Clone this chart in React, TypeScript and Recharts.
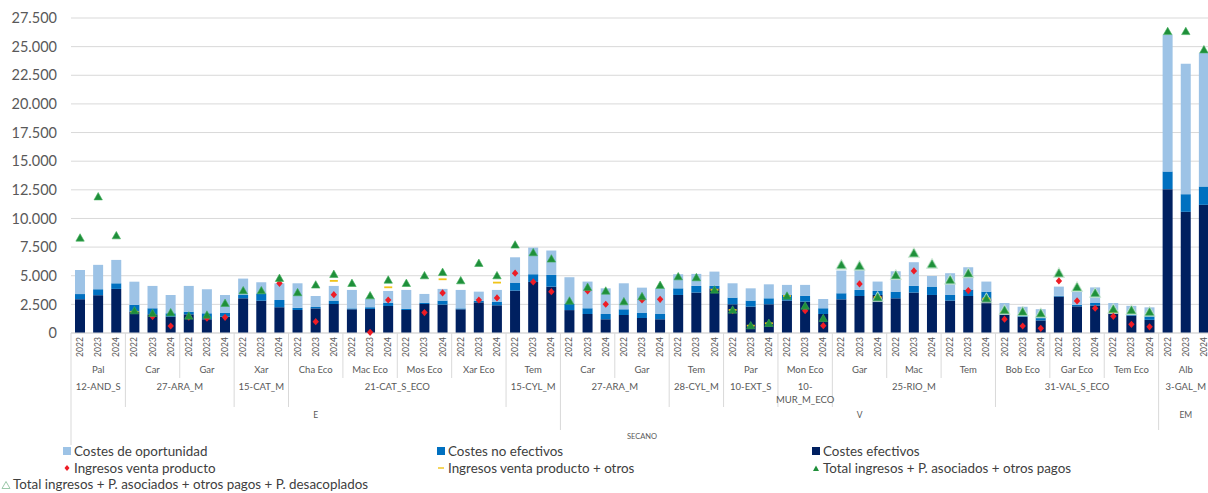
import React from 'react';
import { ComposedChart, Bar, Line, XAxis, YAxis, CartesianGrid } from 'recharts';

// ---------- categories ----------
const years = ['2022', '2023', '2024'];
const productLabels = [
  'Pal', 'Car', 'Gar', 'Xar', 'Cha Eco', 'Mac Eco', 'Mos Eco', 'Xar Eco', 'Tem',
  'Car', 'Gar', 'Tem', 'Par', 'Mon Eco', 'Gar', 'Mac', 'Tem', 'Bob Eco', 'Gar Eco', 'Tem Eco',
  'Alb',
];
const regionLabels = [
  '12-AND_S', '27-ARA_M', '27-ARA_M', '15-CAT_M', '21-CAT_S_ECO', '21-CAT_S_ECO', '21-CAT_S_ECO', '21-CAT_S_ECO', '15-CYL_M',
  '27-ARA_M', '27-ARA_M', '28-CYL_M', '10-EXT_S', '10-MUR_M_ECO', '25-RIO_M', '25-RIO_M', '25-RIO_M', '31-VAL_S_ECO', '31-VAL_S_ECO', '31-VAL_S_ECO',
  '3-GAL_M',
];
const typeLabels = [
  'E', 'E', 'E', 'E', 'E', 'E', 'E', 'E', 'E',
  'V', 'V', 'V', 'V', 'V', 'V', 'V', 'V', 'V', 'V', 'V',
  'EM',
];
const systemLabel = 'SECANO';
const yTicks = [0, 2500, 5000, 7500, 10000, 12500, 15000, 17500, 20000, 22500, 25000, 27500];

// ---------- series (one value per year bar, 63 bars) ----------
const costesEfectivos = [
  2950, 3300, 3850, 1860, 1630, 1430, 1630, 1200, 1430, 3030, 2820, 2250,
  2010, 2150, 2530, 2070, 2100, 2360, 2010, 2530, 2480, 2070, 2680, 2420,
  3700, 4460, 4050, 2000, 1660, 1200, 1570, 1310, 1200, 3320, 3530, 3900,
  2510, 2300, 2510, 2830, 2740, 1660, 2940, 3230, 3320, 3030, 3530, 3320,
  2830, 3230, 2940, 1620, 1400, 1100, 3180, 2330, 2400, 1790, 1515, 1150,
  12560, 10580, 11190,
];
const costesNoEfectivos = [
  450, 520, 490, 590, 530, 290, 230, 520, 350, 290, 630, 630,
  190, 120, 300, 80, 150, 290, 90, 120, 350, 80, 120, 320,
  700, 670, 1020, 540, 500, 460, 500, 470, 460, 580, 580, 210,
  580, 530, 520, 490, 520, 500, 530, 530, 350, 580, 580, 730,
  490, 560, 670, 140, 80, 260, 70, 120, 220, 70, 105, 380,
  1540, 1540, 1600,
];
const costesOportunidad = [
  2100, 2130, 2040, 2030, 1950, 1600, 2250, 2100, 1540, 1430, 980, 1460,
  2140, 960, 1280, 1610, 750, 1020, 1660, 760, 1020, 1610, 810, 1020,
  2210, 2330, 2130, 2330, 2330, 2240, 2270, 2180, 2240, 1230, 1050, 1250,
  1250, 1070, 1220, 880, 940, 810, 1980, 1810, 820, 1780, 2070, 930,
  1900, 1950, 880, 860, 820, 720, 800, 1200, 1360, 760, 750, 710,
  11950, 11390, 11660,
];
const ingresosVenta = [
  null, null, null, null, 1430, 610, 1380, 1290, 1370, null, null, 4340,
  null, 990, 3350, null, 60, 2880, null, 1780, 3500, null, 2880, 3060,
  5220, 4460, 3610, null, 3670, 2510, null, 2880, 2940, null, null, null,
  1950, null, null, null, 1950, 640, null, 4280, null, null, 5420, null,
  null, 3700, null, 1210, 610, 410, 4550, 2800, 2160, 1460, 760, 540,
  null, null, null,
];
const ingresosVentaOtros = [
  null, null, null, 1850, null, null, null, null, null, null, null, null,
  null, null, 4550, null, null, 3990, null, null, 4690, null, null, 4400,
  null, null, null, null, null, null, null, null, null, null, null, 3760,
  2010, 640, 850, 3230, null, null, null, null, 3120, null, null, null,
  null, null, 3000, 1800, null, null, null, null, null, 1850, null, null,
  null, null, null,
];
const totalIngresos = [
  8300, 11900, 8500, 1950, 1720, 1780, 1490, 1570, 2600, 3700, 3700, 4780,
  3530, 4200, 5130, 4340, 3260, 4630, 4340, 5010, 5300, 4570, 6090, 5010,
  7690, 7020, 6470, 2800, 3990, 3670, 2740, 3180, 4170, 4920, 4840, 3760,
  2010, 640, 850, 3230, 2360, 1280, 5940, 5850, 3120, 5040, 6960, 6010,
  4630, 5200, 3010, 2000, 1850, 1700, 5220, 3990, 3480, 2080, 1980, 1830,
  26330, 26330, 24730,
];
const totalIngresosDesacoplados = [
  null, null, null, null, null, null, null, null, null, null, null, null,
  null, null, null, null, null, null, null, null, null, null, null, null,
  null, null, null, null, null, null, null, null, null, null, null, null,
  null, null, null, null, null, null, 5940, 5850, 3120, 5040, 6960, 6010,
  4630, 5200, 3010, 2000, 1850, 1700, 5220, 3990, 3480, 2080, 1980, 1830,
  null, null, null,
];

// ---------- table for the library ----------
const data = productLabels.flatMap((p, g) =>
  years.map((yr, k) => {
    const i = g * 3 + k;
    return {
      id: String(i),
      year: yr,
      product: p,
      region: regionLabels[g],
      type: typeLabels[g],
      system: systemLabel,
      ef: costesEfectivos[i],
      nef: costesNoEfectivos[i],
      op: costesOportunidad[i],
      iv: ingresosVenta[i],
      ivo: ingresosVentaOtros[i],
      ti: totalIngresos[i],
      tid: totalIngresosDesacoplados[i],
    };
  })
);

// ---------- layout ----------
const FONT = 'Lato, "Open Sans", sans-serif';
const TEXT = '#595959';
const LINE = '#d9d9d9';
const N = data.length;
const CHART_W = 1213;
const CHART_H = 493;
const Y_AXIS_W = 71;
const BAND = (CHART_W - Y_AXIS_W) / N;

type Run = { start: number; end: number; label: string };
function runsOf(keys: string[], labels: string[]): Run[] {
  const out: Run[] = [];
  keys.forEach((k, i) => {
    const last = out[out.length - 1];
    if (last && keys[last.start] === k) last.end = i;
    else out.push({ start: i, end: i, label: labels[i] });
  });
  return out;
}
const prodKeys = data.map((d, i) => `${Math.floor(i / 3)}`);
const regKeys = data.map((d) => `${d.type}|${d.region}`);
const typeKeys = data.map((d) => d.type);
const sysKeys = data.map((d) => d.system);
const prodRuns = runsOf(prodKeys, data.map((d) => d.product));
const regRuns = runsOf(regKeys, data.map((d) => d.region));
const typeRuns = runsOf(typeKeys, data.map((d) => d.type));
const sysRuns = runsOf(sysKeys, data.map((d) => d.system));

function splitLabel(label: string, size: number): string[] {
  if (size <= 3 && label.length > 10 && label.indexOf('-') > 0) {
    const p = label.indexOf('-') + 1;
    return [label.slice(0, p), label.slice(p)];
  }
  return [label];
}

function makeGroupTick(runs: Run[], rowCenter: number, fontSize: number) {
  return (props: any) => {
    const { x, y, index } = props;
    const run = runs.find((r) => Math.floor((r.start + r.end) / 2) === index);
    if (!run) return <g />;
    const dx = ((run.start + run.end) / 2 - index) * BAND;
    const lines = splitLabel(run.label, run.end - run.start + 1);
    return (
      <text x={x + dx} y={y + rowCenter} textAnchor="middle" fill={TEXT} fontSize={fontSize} fontFamily={FONT}>
        {lines.map((l, k) => (
          <tspan key={k} x={x + dx} dy={k === 0 ? fontSize * 0.35 : fontSize * 1.35}>{l}</tspan>
        ))}
      </text>
    );
  };
}

const YearTick = (props: any) => {
  const { x, y, index } = props;
  const d = data[index];
  const lines: any[] = [];
  let depth = 0;
  if (index === 0) depth = 112;
  else if (typeKeys[index] !== typeKeys[index - 1]) depth = 97;
  else if (regKeys[index] !== regKeys[index - 1]) depth = 74;
  else if (prodKeys[index] !== prodKeys[index - 1]) depth = 45;
  if (depth) lines.push(<line key="l" x1={x - BAND / 2} x2={x - BAND / 2} y1={y} y2={y + depth} stroke={LINE} />);
  if (index === N - 1) lines.push(<line key="r" x1={x + BAND / 2} x2={x + BAND / 2} y1={y} y2={y + 112} stroke={LINE} />);
  const cy = y + 14;
  return (
    <g>
      {lines}
      <text x={x} y={cy} transform={`rotate(-90, ${x}, ${cy})`} textAnchor="middle" dominantBaseline="central" fill={TEXT} fontSize={8.5} fontFamily={FONT}>
        {d ? d.year : ''}
      </text>
    </g>
  );
};

// ---------- markers ----------
const Diamond = (p: any) => {
  const { cx, cy, value, index } = p;
  if (value == null || cy == null || isNaN(cy)) return <g key={`d${index}`} />;
  return <polygon key={`d${index}`} points={`${cx},${cy - 3.6} ${cx + 3.2},${cy} ${cx},${cy + 3.6} ${cx - 3.2},${cy}`} fill="#ee1c25" />;
};
const Dash = (p: any) => {
  const { cx, cy, value, index } = p;
  if (value == null || cy == null || isNaN(cy)) return <g key={`y${index}`} />;
  return <rect key={`y${index}`} x={cx - 4} y={cy - 0.9} width={8} height={1.8} fill="#f0c419" />;
};
const Tri = (p: any) => {
  const { cx, cy, value, index } = p;
  if (value == null || cy == null || isNaN(cy)) return <g key={`t${index}`} />;
  return <polygon key={`t${index}`} points={`${cx},${cy - 4.2} ${cx + 4.2},${cy + 3.2} ${cx - 4.2},${cy + 3.2}`} fill="#1f8f3a" stroke="#3fae5a" strokeWidth={0.6} />;
};
const HollowTri = (p: any) => {
  const { cx, cy, value, index } = p;
  if (value == null || cy == null || isNaN(cy)) return <g key={`h${index}`} />;
  return <polygon key={`h${index}`} points={`${cx},${cy - 5.8} ${cx + 5.6},${cy + 4.3} ${cx - 5.6},${cy + 4.3}`} fill="rgba(200,230,212,0.6)" stroke="#c4e2cd" strokeWidth={0.8} />;
};

const fmt = (v: number) => String(v).replace(/\B(?=(\d{3})+(?!\d))/g, '.');

// ---------- legend ----------
const legendItems = [
  { label: 'Costes de oportunidad', kind: 'sq', color: '#9dc3e6', x: 62, y: 451 },
  { label: 'Costes no efectivos', kind: 'sq', color: '#0070c0', x: 436, y: 451 },
  { label: 'Costes efectivos', kind: 'sq', color: '#002060', x: 811, y: 451 },
  { label: 'Ingresos venta producto', kind: 'dia', color: '#ee1c25', x: 62, y: 468 },
  { label: 'Ingresos venta producto + otros', kind: 'dash', color: '#f0c419', x: 436, y: 468 },
  { label: 'Total ingresos + P. asociados + otros pagos', kind: 'tri', color: '#1f8f3a', x: 811, y: 468 },
  { label: 'Total ingresos + P. asociados + otros pagos + P. desacoplados', kind: 'htri', color: '#9cc8aa', x: 1, y: 484.5 },
];

function LegendMarker({ kind, color }: { kind: string; color: string }) {
  return (
    <svg width={10} height={10} style={{ position: 'absolute', left: 0, top: -5 }}>
      {kind === 'sq' && <rect x={1} y={1} width={8} height={8} fill={color} />}
      {kind === 'dia' && <polygon points="5,2 7.5,5 5,8 2.5,5" fill={color} />}
      {kind === 'dash' && <rect x={2} y={4.3} width={6} height={1.4} fill={color} />}
      {kind === 'tri' && <polygon points="5,2.5 8,8 2,8" fill={color} />}
      {kind === 'htri' && <polygon points="5,1.5 9,8.5 1,8.5" fill="none" stroke={color} strokeWidth={1} />}
    </svg>
  );
}

export default function App() {
  return (
    <div style={{ position: 'absolute', left: 0, top: 0, width: 1208, height: 493, overflow: 'hidden', background: '#fff' }}>
      <ComposedChart
        width={CHART_W}
        height={CHART_H}
        data={data}
        margin={{ top: 18, right: 0, left: 0, bottom: 48 }}
        barCategoryGap={0}
      >
        <CartesianGrid vertical={false} stroke={LINE} />
        <XAxis dataKey="id" interval={0} tickSize={0} tickMargin={0} height={27} axisLine={{ stroke: LINE }} tickLine={false} tick={YearTick} />
        <XAxis xAxisId="x1prod" dataKey="id" interval={0} tickSize={0} tickMargin={0} height={18} axisLine={false} tickLine={false} tick={makeGroupTick(prodRuns, 10, 9.5)} />
        <XAxis xAxisId="x2reg" dataKey="id" interval={0} tickSize={0} tickMargin={0} height={29} axisLine={false} tickLine={false} tick={makeGroupTick(regRuns, 9, 9.5)} />
        <XAxis xAxisId="x3type" dataKey="id" interval={0} tickSize={0} tickMargin={0} height={20} axisLine={false} tickLine={false} tick={makeGroupTick(typeRuns, 8, 8.5)} />
        <XAxis xAxisId="x4sys" dataKey="id" interval={0} tickSize={0} tickMargin={0} height={18} axisLine={false} tickLine={false} tick={makeGroupTick(sysRuns, 9, 7.5)} />
        <YAxis
          width={Y_AXIS_W}
          domain={[0, 27500]}
          ticks={yTicks}
          interval={0}
          tickFormatter={fmt}
          axisLine={false}
          tickLine={false}
          tickSize={0}
          tickMargin={14}
          tick={{ fill: TEXT, fontSize: 14.5, fontFamily: FONT }}
        />
        <Bar dataKey="ef" stackId="c" fill="#002060" barSize={10} isAnimationActive={false} />
        <Bar dataKey="nef" stackId="c" fill="#0070c0" barSize={10} isAnimationActive={false} />
        <Bar dataKey="op" stackId="c" fill="#9dc3e6" barSize={10} isAnimationActive={false} />
        <Line dataKey="tid" stroke="none" dot={HollowTri} activeDot={false} isAnimationActive={false} />
        <Line dataKey="iv" stroke="none" dot={Diamond} activeDot={false} isAnimationActive={false} />
        <Line dataKey="ivo" stroke="none" dot={Dash} activeDot={false} isAnimationActive={false} />
        <Line dataKey="ti" stroke="none" dot={Tri} activeDot={false} isAnimationActive={false} />
      </ComposedChart>
      {legendItems.map((it) => (
        <div
          key={it.label}
          style={{
            position: 'absolute',
            left: it.x,
            top: it.y,
            height: 0,
            whiteSpace: 'nowrap',
            fontFamily: FONT,
            fontSize: 13.4,
            color: '#404040',
          }}
        >
          <LegendMarker kind={it.kind} color={it.color} />
          <span style={{ position: 'absolute', left: 12, top: -8.5, lineHeight: '17px' }}>{it.label}</span>
        </div>
      ))}
    </div>
  );
}
